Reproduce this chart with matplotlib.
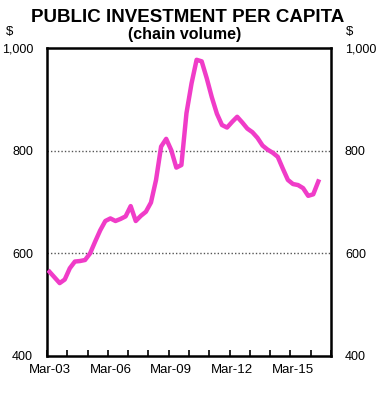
import numpy as np
import matplotlib.pyplot as plt

plt.rcParams['font.family'] = ['Liberation Sans', 'DejaVu Sans']

# quarterly, Mar-03 .. Jun-16
investment = [564, 553, 542, 549, 571, 584, 585, 587, 600, 623,
              645, 663, 668, 663, 667, 672, 692, 663, 673, 681,
              699, 743, 808, 823, 801, 767, 772, 873, 931, 977,
              974, 941, 904, 872, 850, 845, 856, 866, 855, 843,
              836, 825, 810, 802, 796, 788, 765, 743, 735, 733,
              727, 712, 715, 740]
n_quarters = 56  # axis runs Mar-03 .. Dec-16
year_labels = ['Mar-03', 'Mar-06', 'Mar-09', 'Mar-12', 'Mar-15']
label_pos = [0, 12, 24, 36, 48]
y_ticks = [400, 600, 800, 1000]

fig = plt.figure(figsize=(3.8, 3.97), dpi=100)
ax = fig.add_axes([47/380, 41/397, 284/380, 308/397])

x = np.arange(len(investment))
ax.plot(x, investment, color='#F03CC8', lw=3.2, solid_joinstyle='round', zorder=3)

ax.set_xlim(-0.5, n_quarters - 0.5)
ax.set_ylim(400, 1000)

# year boundary tick marks, labels centred on the March quarter
ax.set_xticks(np.arange(-0.5, n_quarters, 4))
ax.set_xticklabels([])
ax.set_xticks(label_pos, minor=True)
ax.set_xticklabels(year_labels, minor=True)
ax.tick_params(axis='x', which='major', direction='in', length=4, width=1.2)
ax.tick_params(axis='x', which='minor', length=0, pad=6, labelsize=9.5)

ax.set_yticks(y_ticks)
ax.set_yticklabels([f'{v:,}' for v in y_ticks])
ax.tick_params(axis='y', length=0, pad=10, labelsize=9,
               labelleft=True, labelright=True)

for v in [600, 800]:
    ax.axhline(v, color='#555555', lw=1, ls=(0, (1, 1.5)), zorder=1)

for s in ax.spines.values():
    s.set_linewidth(1.8)

fig.text(0.495, 1 - 22/397, 'PUBLIC INVESTMENT PER CAPITA', ha='center',
         va='baseline', fontsize=13.5, fontweight='bold')
fig.text(0.487, 1 - 39/397, '(chain volume)', ha='center', va='baseline',
         fontsize=11.5, fontweight='bold')
fig.text(10/380, 1 - 35/397, '$', ha='center', va='baseline', fontsize=9.5)
fig.text(350/380, 1 - 35/397, '$', ha='center', va='baseline', fontsize=9.5)

fig.savefig('out.png', dpi=100)
